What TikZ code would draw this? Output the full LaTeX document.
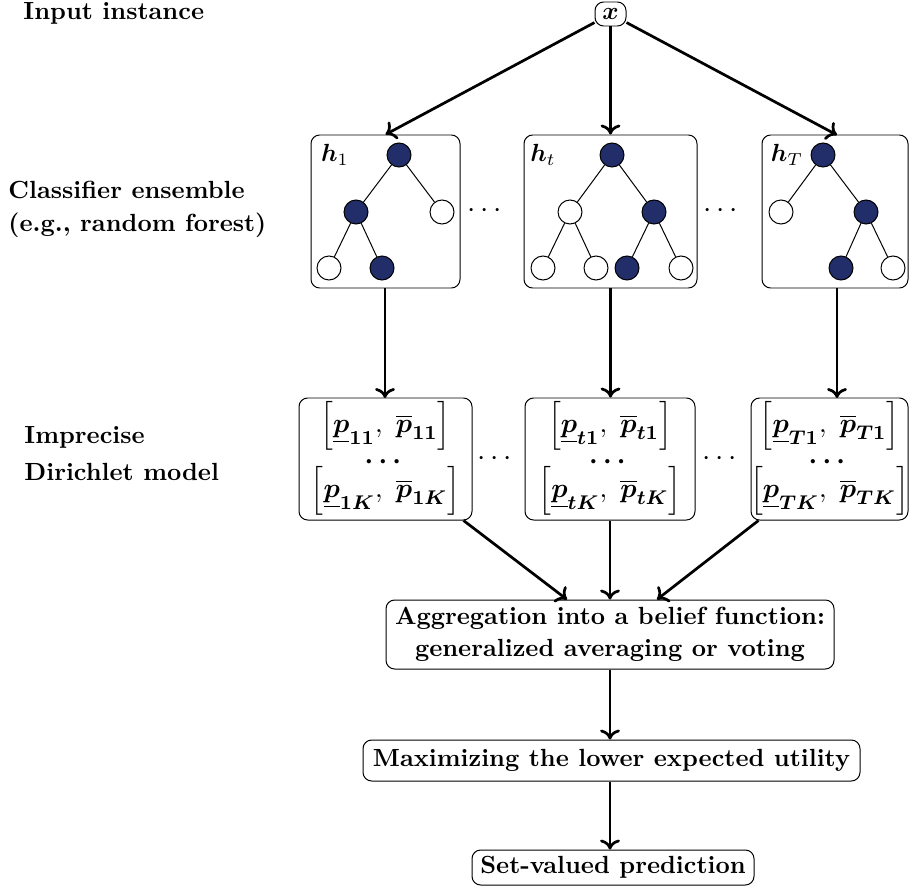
\documentclass[tikz,border=0pt]{standalone}
\usepackage{amsmath,bm}
\usetikzlibrary{calc,arrows.meta}
\newdimen\px \px=0.403pt
\definecolor{navy}{RGB}{33,46,106}
\newcommand{\ival}[2]{$\Big[\bm{\underline{p}_{#1}},\ \bm{\overline{p}_{#2}}\Big]$}
\begin{document}
\begin{tikzpicture}[x=0.403pt,y=-0.403pt,
  box/.style={draw,rounded corners=3.5pt,inner sep=2pt},
  arr/.style={line width=1.1pt,-{Computer Modern Rightarrow[length=4pt,width=8pt]}},
  full/.style={circle,draw,fill=navy,minimum size=24\px,inner sep=0pt},
  empt/.style={circle,draw,fill=white,minimum size=24\px,inner sep=0pt},
  lab/.style={anchor=west,font=\bfseries,inner sep=0pt},
  hdots/.style={font=\large,inner sep=0pt},
  vdots/.style={inner sep=0pt,font=\fontsize{11}{13}\selectfont,text height=3.6pt,text depth=0pt},
  ivl/.style={inner sep=0pt,font=\fontsize{11}{13}\selectfont}]
\useasboundingbox (0,0) rectangle (917,891);

% labels
\node[lab] (l1) at (23,13) {Input instance};
\node[lab] (l2) at (8,190) {Classifier ensemble};
\node[lab] (l3) at (8,225) {(e.g., random forest)};
\node[lab] (l4) at (24,437) {Imprecise};
\node[lab] (l5) at (24,472) {Dirichlet model};

% input
\node[box,minimum width=31\px,minimum height=24\px,inner sep=0pt] (x) at (610.5,14) {$\bm{x}$};

% tree boxes
\node[box,minimum width=149\px,minimum height=153\px] (h1) at (385.5,211.5) {};
\node[box,minimum width=173\px,minimum height=153\px] (ht) at (610.5,211.5) {};
\node[box,minimum width=146\px,minimum height=153\px] (hT) at (835,211.5) {};
\node[hdots] (d1) at (487,211) {$\cdots$};
\node[hdots] (d2) at (723,211) {$\cdots$};

% tree 1
\node (lh1) at (335,155) {$\bm{h}_1$};
\node[full] (a0) at (399,155) {};
\node[full] (a1) at (356,212) {};
\node[empt] (a2) at (442,212) {};
\node[empt] (a3) at (329,268) {};
\node[full] (a4) at (382,268) {};
\draw (a0)--(a1) (a0)--(a2) (a1)--(a3) (a1)--(a4);

% tree t
\node (lht) at (543,155) {$\bm{h}_t$};
\node[full] (b0) at (612,155) {};
\node[empt] (b1) at (570,212) {};
\node[full] (b2) at (654,212) {};
\node[empt] (b3) at (543,268) {};
\node[empt] (b4) at (596,268) {};
\node[full] (b5) at (627,268) {};
\node[empt] (b6) at (681,268) {};
\draw (b0)--(b1) (b0)--(b2) (b1)--(b3) (b1)--(b4) (b2)--(b5) (b2)--(b6);

% tree T
\node (lhT) at (787,155) {$\bm{h}_T$};
\node[full] (c0) at (823,155) {};
\node[empt] (c1) at (781,212) {};
\node[full] (c2) at (866,212) {};
\node[full] (c3) at (841,268) {};
\node[empt] (c4) at (893,268) {};
\draw (c0)--(c1) (c0)--(c2) (c2)--(c3) (c2)--(c4);

% IDM boxes
\node[box,minimum width=173\px,minimum height=122\px] (i1) at (385.5,459) {};
\node[box,minimum width=170\px,minimum height=122\px] (it) at (610,459) {};
\node[box,minimum width=157\px,minimum height=122\px] (iT) at (829.5,459) {};
\node[ivl] (i1a) at (385.5,426) {\ival{11}{11}};
\node[vdots] (i1b) at (385.5,464) {\smash{$\bm{\cdots}$}};
\node[ivl] (i1c) at (385.5,491) {\ival{1K}{1K}};
\node[ivl] (ita) at (610,426) {\ival{t1}{t1}};
\node[vdots] (itb) at (610,464) {\smash{$\bm{\cdots}$}};
\node[ivl] (itc) at (610,491) {\ival{tK}{tK}};
\node[ivl] (iTa) at (829.5,426) {\ival{T1}{T1}};
\node[vdots] (iTb) at (829.5,464) {\smash{$\bm{\cdots}$}};
\node[ivl] (iTc) at (829.5,491) {\ival{TK}{TK}};
\node[hdots] (d3) at (497,459) {$\cdots$};
\node[hdots] (d4) at (722,459) {$\cdots$};

% lower boxes
\node[box,minimum width=448\px,minimum height=69\px] (agg) at (610,634.5) {};
\node[font=\bfseries,inner sep=0pt] (agg1) at (610,618) {Aggregation into a belief function:};
\node[font=\bfseries,inner sep=0pt] (agg2) at (610,650) {generalized averaging or voting};
\node[box,minimum width=497\px,minimum height=41\px,font=\bfseries] (max) at (611.5,760.5) {Maximizing the lower expected utility};
\node[box,minimum width=282\px,minimum height=35\px,font=\bfseries] (set) at (613,867.5) {Set-valued prediction};

% arrows
\draw[arr] (x) -- (h1.north);
\draw[arr] (x) -- (ht.north);
\draw[arr] (x) -- (837,135);
\draw[arr] (385,288) -- (385,398);
\draw[arr] (ht.south) -- (it.north -| ht.south);
\draw[arr] (837,288) -- (837,398);
\draw[arr] ($(i1.south east)+(-9,0)$) -- ($(agg.north)+(-43,0)$);
\draw[arr] (it.south) -- (agg.north);
\draw[arr] ($(iT.south west)+(8,0)$) -- ($(agg.north)+(47,0)$);
\draw[arr] (agg.south) -- (agg.south |- max.north);
\draw[arr] (max.south -| agg.south) -- (agg.south |- set.north);
\end{tikzpicture}
\end{document}
